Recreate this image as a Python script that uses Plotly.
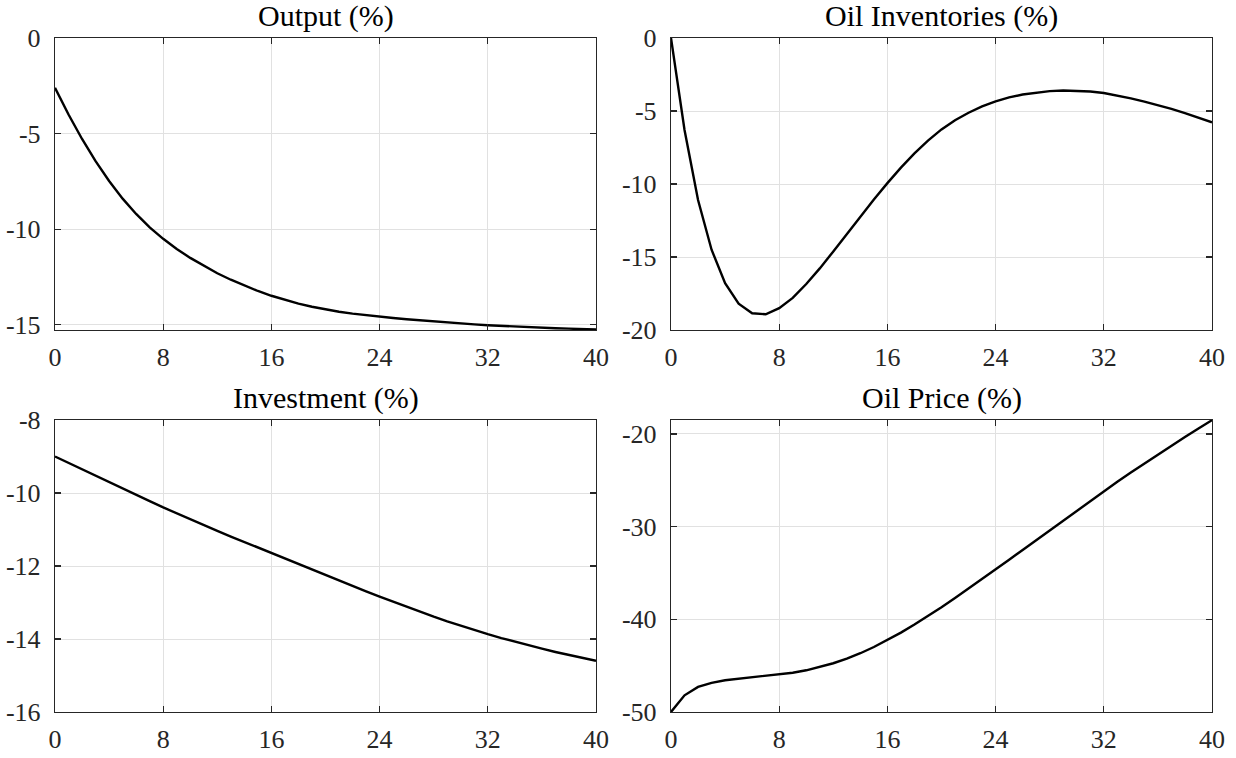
import plotly.graph_objects as go

# ---------------- data ----------------
periods = list(range(41))

output_pct = [-2.6, -4.0, -5.28, -6.44, -7.48, -8.4, -9.2, -9.9, -10.5, -11.03,
              -11.5, -11.92, -12.3, -12.64, -12.95, -13.23, -13.48, -13.7, -13.89, -14.055,
              -14.195, -14.315, -14.415, -14.5, -14.575, -14.643, -14.707, -14.767, -14.824, -14.878,
              -14.929, -14.977, -15.023, -15.059, -15.092, -15.122, -15.15, -15.176, -15.2, -15.223,
              -15.245]

oil_inventories_pct = [0.0, -6.3, -11.1, -14.5, -16.8, -18.2, -18.85, -18.92, -18.5, -17.8,
                       -16.85, -15.78, -14.62, -13.42, -12.22, -11.06, -9.94, -8.88, -7.9, -7.03,
                       -6.26, -5.63, -5.12, -4.69, -4.34, -4.07, -3.87, -3.73, -3.64, -3.6,
                       -3.61, -3.66, -3.77, -3.93, -4.14, -4.36, -4.6, -4.86, -5.14, -5.45,
                       -5.78]

investment_pct = [-9.0, -9.178, -9.355, -9.531, -9.706, -9.88, -10.053, -10.225, -10.396, -10.562,
                  -10.724, -10.883, -11.039, -11.193, -11.345, -11.496, -11.646, -11.796, -11.946, -12.096,
                  -12.246, -12.396, -12.545, -12.693, -12.839, -12.982, -13.122, -13.258, -13.389, -13.516,
                  -13.638, -13.755, -13.867, -13.974, -14.076, -14.173, -14.266, -14.355, -14.44, -14.521,
                  -14.598]

oil_price_pct = [-50.0, -48.2, -47.3, -46.85, -46.57, -46.4, -46.26, -46.12, -45.96, -45.76,
                 -45.5, -45.16, -44.74, -44.24, -43.66, -42.99, -42.25, -41.44, -40.57, -39.65,
                 -38.69, -37.7, -36.69, -35.66, -34.62, -33.57, -32.515, -31.455, -30.395, -29.335,
                 -28.28, -27.23, -26.19, -25.17, -24.17, -23.19, -22.225, -21.275, -20.34, -19.42,
                 -18.52]

titles = ["Output (%)", "Oil Inventories (%)", "Investment (%)", "Oil Price (%)"]

x_ticks = [0, 8, 16, 24, 32, 40]
x_tick_labels = ["0", "8", "16", "24", "32", "40"]

y_ticks_output = [0, -5, -10, -15]
y_labels_output = ["0", "-5", "-10", "-15"]
y_ticks_inv = [0, -5, -10, -15, -20]
y_labels_inv = ["0", "-5", "-10", "-15", "-20"]
y_ticks_invest = [-8, -10, -12, -14, -16]
y_labels_invest = ["-8", "-10", "-12", "-14", "-16"]
y_ticks_price = [-20, -30, -40, -50]
y_labels_price = ["-20", "-30", "-40", "-50"]

# ---------------- layout / styling ----------------
W, H = 1236, 758
FONT = "Liberation Serif, Times New Roman, serif"
AX_COLOR = "#262626"
GRID_COLOR = "#e1e1e1"

panels = [
    dict(y=output_pct, title=titles[0], yt=y_ticks_output, yl=y_labels_output, yr=[-15.27, 0]),
    dict(y=oil_inventories_pct, title=titles[1], yt=y_ticks_inv, yl=y_labels_inv, yr=[-20, 0]),
    dict(y=investment_pct, title=titles[2], yt=y_ticks_invest, yl=y_labels_invest, yr=[-16, -8]),
    dict(y=oil_price_pct, title=titles[3], yt=y_ticks_price, yl=y_labels_price, yr=[-50, -18.5]),
]

x_domains = [[55 / W, 596 / W], [671 / W, 1212 / W]]
y_domains = [[(H - 330) / H, (H - 38) / H], [(H - 712) / H, (H - 420) / H]]

fig = go.Figure()
annotations = []
layout_axes = {}

for i, p in enumerate(panels):
    row, col = divmod(i, 2)
    n = i + 1
    xa = "x" if n == 1 else f"x{n}"
    ya = "y" if n == 1 else f"y{n}"
    fig.add_trace(go.Scatter(
        x=periods, y=p["y"], mode="lines",
        line=dict(color="black", width=2.4),
        xaxis=xa, yaxis=ya, showlegend=False, hoverinfo="skip",
    ))
    common = dict(
        showline=True, linecolor=AX_COLOR, linewidth=1.2, mirror="ticks",
        ticks="inside", ticklen=6, tickwidth=1.2, tickcolor=AX_COLOR,
        showgrid=True, gridcolor=GRID_COLOR, gridwidth=1,
        zeroline=False, tickfont=dict(family=FONT, size=26, color=AX_COLOR),
        fixedrange=True, automargin=False,
    )
    layout_axes["xaxis" if n == 1 else f"xaxis{n}"] = dict(
        common, domain=x_domains[col], range=[0, 40], tickmode="array",
        tickvals=x_ticks, ticktext=x_tick_labels, anchor=ya,
        ticklabelstandoff=4,
    )
    layout_axes["yaxis" if n == 1 else f"yaxis{n}"] = dict(
        common, domain=y_domains[row], range=p["yr"], tickmode="array",
        tickvals=p["yt"], ticktext=p["yl"], anchor=xa,
        ticklabelstandoff=8,
    )
    annotations.append(dict(
        text=p["title"], xref="paper", yref="paper",
        x=sum(x_domains[col]) / 2, y=y_domains[row][1],
        xanchor="center", yanchor="bottom", yshift=3, showarrow=False,
        font=dict(family=FONT, size=30, color="black"),
    ))

fig.update_layout(
    width=W, height=H,
    margin=dict(l=0, r=0, t=0, b=0),
    paper_bgcolor="white", plot_bgcolor="white",
    annotations=annotations,
    **layout_axes,
)

fig.write_html(
    "out.html",
    config={"displayModeBar": False, "staticPlot": True},
    post_script="document.body.style.margin='0';document.body.style.overflow='hidden';",
)
